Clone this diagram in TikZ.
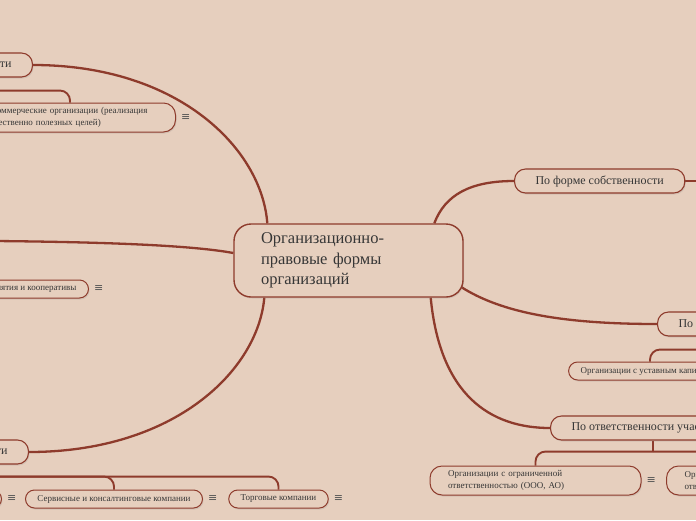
\documentclass[tikz,border=0pt]{standalone}
\usepackage{fontspec}
\setmainfont{Liberation Serif}
\newfontfamily\symfont{DejaVu Sans}
\usetikzlibrary{shadows,calc}
\definecolor{bgc}{HTML}{E6CFBE}
\definecolor{lnc}{HTML}{8E3B2C}
\definecolor{txc}{HTML}{363636}
\pgfdeclarelayer{backdrop}
\pgfdeclarelayer{bglayer}
\pgfsetlayers{backdrop,bglayer,main}
\begin{document}
\begin{tikzpicture}[x=1pt,y=-1pt,
  box/.style={draw=lnc, fill=bgc, text=txc,
    drop shadow={shadow xshift=1pt,shadow yshift=-1.5pt,opacity=0.18}},
  central/.style={box, line width=1.4pt, rounded corners=17pt,
    minimum width=229pt, minimum height=73pt, text width=175pt,
    inner xsep=27pt, align=left, font=\fontsize{16.5}{20.5}\selectfont},
  topic/.style={box, line width=1.1pt, rounded corners=11pt,
    minimum height=24pt, inner ysep=0pt, inner xsep=21pt,
    font=\fontsize{12}{14}\selectfont},
  sub/.style={box, line width=1pt, rounded corners=9pt,
    minimum height=18pt, inner ysep=0pt, inner xsep=12pt,
    font=\fontsize{9}{12.5}\selectfont},
  subtwo/.style={sub, rounded corners=12pt, minimum height=29pt,
    text width=175pt, inner xsep=18pt, align=left},
  conn/.style={draw=lnc, line width=2.3pt},
  subconn/.style={draw=lnc, line width=1.9pt, rounded corners=10pt},
  note/.style={text=txc!85, font=\symfont\fontsize{11}{11}\selectfont,
    inner sep=0pt, anchor=west, xshift=5pt}
]
\begin{pgfonlayer}{backdrop}
\fill[bgc] (0,0) rectangle (696,520);
\end{pgfonlayer}
\useasboundingbox (0,0) rectangle (696,520);

% central
\node[central] (c) at (348.5,260.5) {Организационно-\\правовые формы\\организаций};

% topics
\node[topic, anchor=east] (tl) at (33,65) {По целям деятельности};
\node[topic, anchor=east] (bl) at (29,452) {По сфере деятельности};
\node[topic, anchor=west] (pf) at (514,181) {По форме собственности};
\node[topic, anchor=west] (rm) at (657,324) {По источникам капитала};
\node[topic, anchor=west] (rb) at (550,428) {По ответственности участников};

% subtopics
\node[subtwo] (n1) at (70,117.5) {Некоммерческие организации (реализация\\общественно полезных целей)};
\node[sub, anchor=east] (n2) at (89,289) {Предприятия и кооперативы};
\node[sub, anchor=east] (s1) at (2,499) {Производственные компании};
\node[sub] (s2) at (114,499) {Сервисные и консалтинговые компании};
\node[sub] (s3) at (278.5,499) {Торговые компании};
\node[sub] (r1) at (650,371) {Организации с уставным капиталом};
\node[subtwo] (b1) at (535.5,480.5) {Организации с ограниченной\\ответственностью (ООО, АО)};
\node[subtwo, anchor=west] (b2) at (666,480.5) {Организации с неограниченной\\ответственностью};

% note icons
\node[note] at (n1.east) {≡};
\node[note] at (n2.east) {≡};
\node[note] at (s1.east) {≡};
\node[note] at (s2.east) {≡};
\node[note] at (s3.east) {≡};
\node[note] at (b1.east) {≡};

% free ends
\coordinate (lm) at (-5,241);
\coordinate (pfout) at (705,181);
\coordinate (tlj) at ($(tl.south)+(0,13)$);
\coordinate (blj) at ($(bl.south)+(0,12)$);
\coordinate (rmj) at ($(rm.south)+(0,13)$);
\coordinate (rbj) at ($(rb.south)+(0,11)$);

\begin{pgfonlayer}{bglayer}
\draw[conn] (tl.east) .. controls (180,65) and (262,150) .. ($(c.north west)+(34,0)$);
\draw[conn] (bl.east) .. controls (175,452) and (258,370) .. ($(c.south west)+(31,0)$);
\draw[conn] (lm) .. controls (100,242) and (190,245) .. ($(c.west)+(0,-7.5)$);
\draw[conn] ($(c.north west)+(201,0)$) .. controls (445,195) and (470,181) .. (pf.west);
\draw[conn] (pf.east) -- (pfout);
\draw[conn] ($(c.south east)+(-3,-11)$) .. controls (500,312) and (560,324) .. (rm.west);
\draw[conn] ($(c.south east)+(-33,0)$) .. controls (440,395) and (490,428) .. (rb.west);

\draw[subconn] (tlj) -| (n1.north);
\draw[subconn] (blj) -| (s1.north);
\draw[subconn] (blj) -| (s2.north);
\draw[subconn] (blj) -| (s3.north);
\draw[subconn] (rmj) -| (r1.north);
\draw[subconn] (rb.south) -- (rbj);
\draw[subconn] (rbj) -| (b1.north);
\draw[subconn] (rbj) -| (b2.north);
\end{pgfonlayer}
\end{tikzpicture}
\end{document}
